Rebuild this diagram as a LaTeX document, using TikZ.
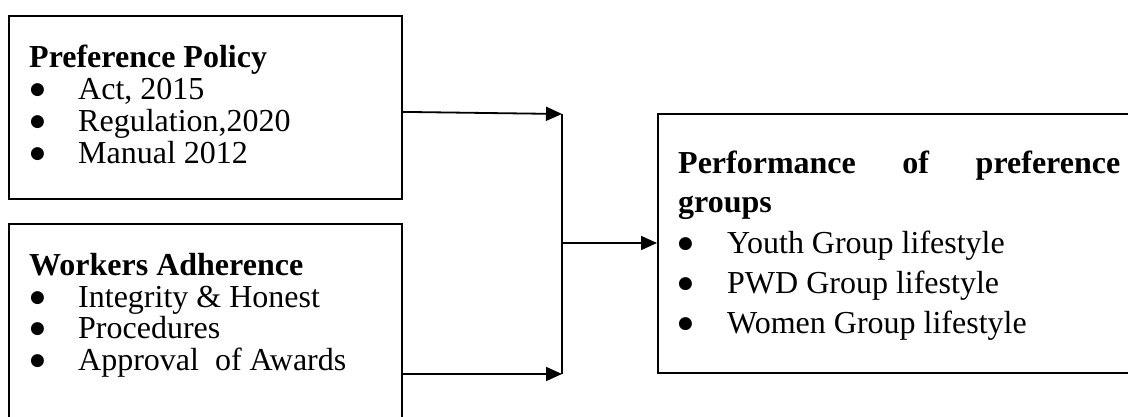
\documentclass[tikz,border=0pt]{standalone}
\usepackage{fontspec}
\setmainfont{Liberation Serif}
\newfontfamily\markfont{DejaVu Sans}
\usetikzlibrary{arrows.meta}
% list marker: a solid round dot set on the x-height
\newcommand{\bulletmark}[1]{\makebox[#1][l]{\raisebox{5pt}{\markfont\fontsize{17}{17}\selectfont ●}}}
\begin{document}
\begin{tikzpicture}[x=1pt,y=-1pt,
  box/.style={draw, line width=1.8pt, inner sep=0pt, anchor=north west},
  link/.style={line width=1.8pt},
  arr/.style={link, -{Triangle[length=16pt,width=14pt]}},
  txt/.style={inner sep=0pt, anchor=base west, font=\fontsize{32}{38}\selectfont},
  head/.style={txt, font=\fontsize{32}{38}\selectfont\bfseries},
]
\useasboundingbox (0,0) rectangle (1128,417);
\clip (0,0) rectangle (1128,417);

% frames
\node[box, minimum width=393pt, minimum height=183pt] (pp) at (8,15) {};
\node[box, minimum width=393pt, minimum height=230pt] (wa) at (8,223) {};
\node[box, minimum width=500pt, minimum height=259pt] (pg) at (657,113) {};

% Preference Policy
\node[head] (ppTitle) at (29,68) {Preference Policy};
\node[txt] (ppA) at (30,100) {\bulletmark{48pt}Act, 2015};
\node[txt] (ppB) at (30,132) {\bulletmark{48pt}Regulation,2020};
\node[txt] (ppC) at (30,164) {\bulletmark{48pt}Manual 2012};

% Workers Adherence
\node[head] (waTitle) at (29,275) {Workers Adherence};
\node[txt] (waA) at (30,307) {\bulletmark{48pt}Integrity \& Honest};
\node[txt] (waB) at (30,338) {\bulletmark{48pt}Procedures};
\node[txt] (waC) at (30,370) {\bulletmark{48pt}Approval\ \ of Awards};

% Performance of preference groups
\node[head] (pgTitleA) at (678,174) {\makebox[442pt][s]{Performance of preference}};
\node[head] (pgTitleB) at (678,213) {groups};
\node[txt] (pgA) at (678,253) {\bulletmark{49pt}Youth Group lifestyle};
\node[txt] (pgB) at (678,293) {\bulletmark{49pt}PWD Group lifestyle};
\node[txt] (pgC) at (678,333) {\bulletmark{49pt}Women Group lifestyle};

% connectors
\coordinate (j1) at (562,114);
\coordinate (j2) at (562,374);
\coordinate (jm) at (562,243);
\draw[arr] ([yshift=-4.5pt]pp.east) -- (j1);
\draw[arr] (wa.east |- j2) -- (j2);
\draw[link] (j1) -- (j2);
\draw[arr] (jm) -- (pg.west |- jm);
\end{tikzpicture}
\end{document}
